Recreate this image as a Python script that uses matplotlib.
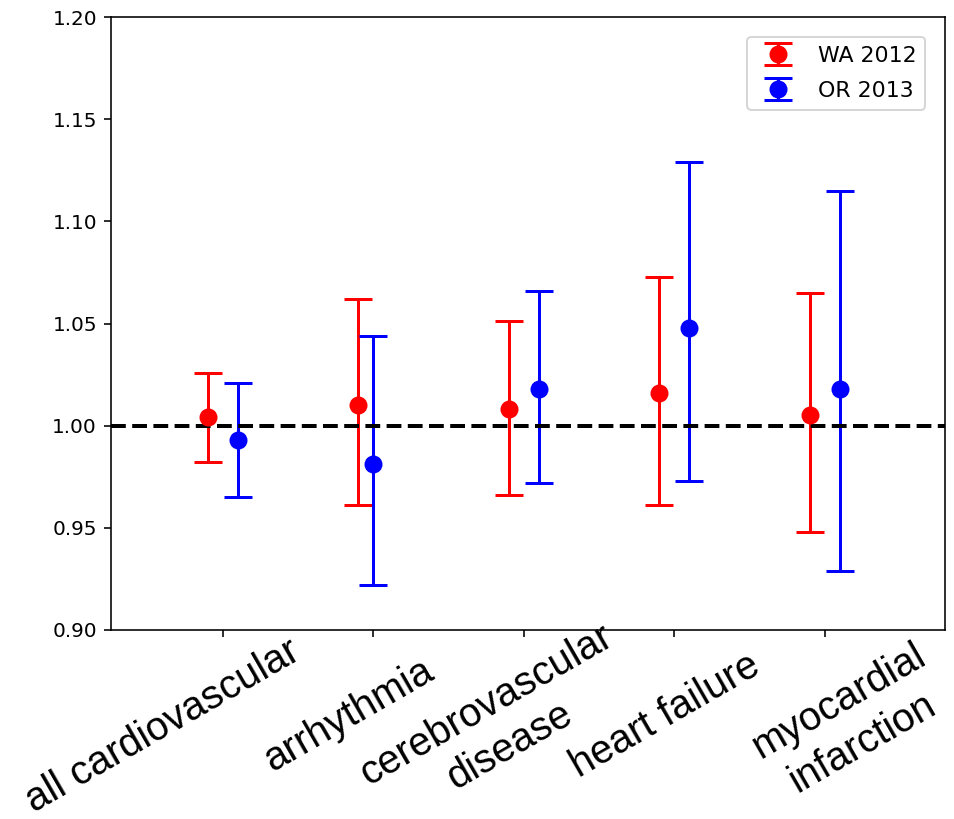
import numpy as np
import matplotlib
matplotlib.use("Agg")
import matplotlib.pyplot as plt
from matplotlib.transforms import offset_copy

categories = ["all cardiovascular", "arrhythmia", "cerebrovascular\ndisease",
              "heart failure", "myocardial\ninfarction"]

wa_est = [1.004, 1.010, 1.008, 1.016, 1.005]
wa_lo = [0.982, 0.961, 0.966, 0.961, 0.948]
wa_hi = [1.026, 1.062, 1.051, 1.073, 1.065]

or_est = [0.993, 0.981, 1.018, 1.048, 1.018]
or_lo = [0.965, 0.922, 0.972, 0.973, 0.929]
or_hi = [1.021, 1.044, 1.066, 1.129, 1.115]

yticks = [0.90, 0.95, 1.00, 1.05, 1.10, 1.15, 1.20]

# horizontal shifts of the two series around each category
wa_shift = [-0.1, -0.1, -0.1, -0.1, -0.1]
or_shift = [0.1, 0.0, 0.1, 0.1, 0.1]

x = np.arange(len(categories))

fig = plt.figure(figsize=(954/144, 819/144), dpi=144)
ax = fig.add_axes([0.1164, 0.2308, 0.8742, 0.7484])

wa_est = np.array(wa_est)
or_est = np.array(or_est)
wa_err = [wa_est - np.array(wa_lo), np.array(wa_hi) - wa_est]
or_err = [or_est - np.array(or_lo), np.array(or_hi) - or_est]

ax.errorbar(x + np.array(wa_shift), wa_est, yerr=wa_err, fmt='o', color='red',
            ms=8, elinewidth=1.5, capsize=7, capthick=1.5, label='WA 2012')
ax.errorbar(x + np.array(or_shift), or_est, yerr=or_err, fmt='o', color='blue',
            ms=8, elinewidth=1.5, capsize=7, capthick=1.5, label='OR 2013')
ax.axhline(1.0, color='black', ls='--', lw=2)

ax.set_xlim(-0.745, 4.8)
ax.set_ylim(0.90, 1.20)
ax.set_yticks(yticks)
ax.set_yticklabels(["%.2f" % v for v in yticks])
ax.set_xticks(x)
ax.set_xticklabels([])

# category labels (placed by hand, rotated)
dx = [-60, -25, -26, -9, 26]
dy = [96, 85, 96, 86, 92]
base = ax.get_xaxis_transform()
for i, lab in enumerate(categories):
    tr = offset_copy(base, fig=fig, x=dx[i], y=-dy[i], units='dots')
    ax.text(x[i], 0, lab, transform=tr, rotation=30, rotation_mode='anchor',
            ha='center', va='center', multialignment='center', linespacing=1.3,
            fontsize=20, family='Liberation Sans')

ax.legend(loc='upper right', fontsize=11, labelspacing=0.7, borderaxespad=0.9)

fig.savefig("out.png", dpi=144)
